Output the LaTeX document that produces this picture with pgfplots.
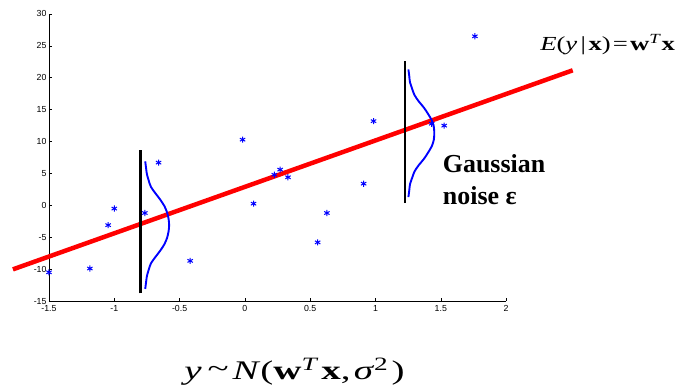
\documentclass[border=0pt]{standalone}
\usepackage{pgfplots}
\pgfplotsset{compat=1.18}
\usepackage{fontspec}
\setmainfont{Liberation Serif}
\newfontfamily\ticksans{Liberation Sans}
\begin{document}
\begin{tikzpicture}
\begin{axis}[
  scale only axis, width=457bp, height=287bp,
  xmin=-1.5, xmax=2, ymin=-15, ymax=30,
  axis x line=bottom, axis y line=left,
  axis line style={-, line width=0.9pt},
  tick align=inside, major tick length=3.5bp,
  tick style={black, line width=0.6pt},
  xtick={-1.5,-1,-0.5,0,0.5,1,1.5,2},
  ytick={-15,-10,-5,0,5,10,15,20,25,30},
  xticklabels={-1.5,-1,-0.5,0,0.5,1,1.5,2},
  yticklabels={-15,-10,-5,0,5,10,15,20,25,30},
  tick label style={font=\ticksans\fontsize{8.8}{10}\selectfont},
  xticklabel style={yshift=-1bp},
  yticklabel style={xshift=1bp},
  clip=false,
]
\addplot[only marks, mark=asterisk, mark size=3.1pt, blue, mark options={line width=1pt}] coordinates {
(-1.5,-10.5) (-1.187,-9.9) (-1.047,-3.1) (-1.0,-0.5) (-0.766,-1.2) (-0.661,6.7)
(-0.419,-8.7) (-0.018,10.3) (0.066,0.27) (0.225,4.8) (0.27,5.6) (0.33,4.4)
(0.557,-5.8) (0.628,-1.2) (0.909,3.4) (0.985,13.2) (1.43,12.8) (1.526,12.5) (1.761,26.5)
};
\addplot[red, line width=4.5pt] coordinates {(-1.776,-10.03) (2.51,21.17)};
\addplot[black, line width=2.5pt] coordinates {(-0.80,-13.8) (-0.80,8.6)};
\addplot[black, line width=2.5pt] coordinates {(1.225,0.36) (1.225,22.7)};
\addplot[blue, line width=1.9pt, smooth] coordinates {
(-0.7631,-13.1) (-0.7570,-12.1) (-0.7503,-11.1) (-0.7365,-10.1) (-0.7195,-9.1) (-0.6853,-8.1)
(-0.6481,-7.1) (-0.6166,-6.1) (-0.5959,-5.1) (-0.5845,-4.1) (-0.5800,-3.1) (-0.5845,-2.1)
(-0.5959,-1.1) (-0.6166,-0.1) (-0.6481,0.9) (-0.6853,1.9) (-0.7195,2.9) (-0.7365,3.9)
(-0.7503,4.9) (-0.7570,5.9) (-0.7631,6.9)
};
\addplot[blue, line width=1.9pt, smooth] coordinates {
(1.2519,1.3) (1.2583,2.3) (1.2640,3.3) (1.2803,4.3) (1.2983,5.3) (1.3309,6.3)
(1.3714,7.3) (1.4034,8.3) (1.4316,9.3) (1.4465,10.3) (1.4500,11.3) (1.4465,12.3)
(1.4316,13.3) (1.4034,14.3) (1.3714,15.3) (1.3309,16.3) (1.2983,17.3) (1.2803,18.3)
(1.2640,19.3) (1.2583,20.3) (1.2519,21.3)
};
\node[anchor=west, align=left, inner sep=0pt, font=\bfseries\fontsize{26}{32}\selectfont] at (axis cs:1.515,4.0) {Gaussian\\noise ε};
\node[anchor=west, inner sep=0pt, font=\fontsize{20}{22}\selectfont] at (axis cs:2.26,25.2) {\scalebox{1.34}[1]{\textit{E}(\textit{y}\hspace{0.12em}|\hspace{0.1em}\textbf{x})\hspace{0.08em}=\hspace{0.08em}\textbf{w}\textsuperscript{\textit{T}}\textbf{x}}};
\node[anchor=center, inner sep=0pt, font=\fontsize{27}{30}\selectfont] at (axis cs:0.38,-26.1) {\scalebox{1.45}[1]{\textit{y}\hspace{0.15em}\raisebox{0.1em}{\char`\~}\hspace{0.1em}\textit{N}(\textbf{w}\textsuperscript{\textit{T}}\hspace{0.06em}\textbf{x},\hspace{0.08em}\textit{σ}\textsuperscript{2}\hspace{0.08em})}};
\coordinate (BL) at (axis cs:-1.875,-28.79);
\coordinate (TR) at (axis cs:3.362,32.19);
\end{axis}
\pgfresetboundingbox
\path[use as bounding box] (BL) rectangle (TR);
\end{tikzpicture}
\end{document}
